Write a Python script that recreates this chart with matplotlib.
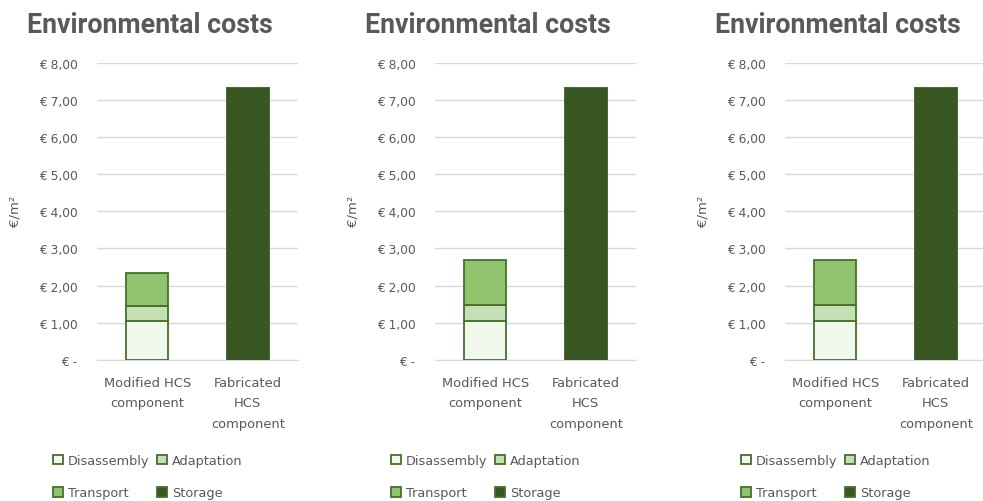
import numpy as np
import matplotlib
matplotlib.use("Agg")
import matplotlib.pyplot as plt
from matplotlib.patches import Patch

plt.rcParams['font.family'] = ['DejaVu Sans']

# data (EUR per m2), one panel per chart
categories = ['Modified HCS\ncomponent', 'Fabricated\nHCS\ncomponent']
series = ['Disassembly', 'Adaptation', 'Transport', 'Storage']
disassembly = [[1.03, 0.0], [1.03, 0.0], [1.03, 0.0]]
adaptation = [[0.43, 0.0], [0.44, 0.0], [0.44, 0.0]]
transport = [[0.87, 0.0], [1.21, 0.0], [1.21, 0.0]]
storage = [[0.0, 7.32], [0.0, 7.32], [0.0, 7.32]]
yticks = [0, 1, 2, 3, 4, 5, 6, 7, 8]

colors = ['#f1f8ec', '#c5e0b4', '#92c46f', '#385723']
edge = '#456f2b'
grey = '#595959'

W, H = 983, 502
fig = plt.figure(figsize=(W / 100, H / 100), dpi=100)

offsets = [0, 338, 688]
for i, dx in enumerate(offsets):
    left = 97 + dx
    ax = fig.add_axes([left / W, 1 - 360.7 / H, 201 / W, 296.7 / H])
    x = np.arange(len(categories))
    vals = [disassembly[i], adaptation[i], transport[i], storage[i]]
    bottom = np.zeros(len(categories))
    for j, v in enumerate(vals):
        v = np.array(v)
        mask = v > 0
        ec = colors[3] if j == 3 else edge
        ax.bar(x[mask], v[mask], 0.42, bottom=bottom[mask], color=colors[j],
               edgecolor=ec, linewidth=1.3, zorder=3)
        bottom += v
    ax.set_xlim(-0.5, 1.5)
    ax.set_ylim(0, 8)
    ax.set_yticks(yticks)
    ax.set_yticklabels(['€ -' if t == 0 else '€ %d,00' % t for t in yticks])
    ax.set_xticks(x)
    ax.set_xticklabels(categories, linespacing=1.75)
    ax.tick_params(axis='y', length=0, pad=14, labelsize=8.8, labelcolor=grey)
    ax.tick_params(axis='x', length=0, pad=11.5, labelsize=9.4, labelcolor=grey)
    ax.grid(axis='y', color='#d9d9d9', linewidth=1, zorder=0)
    for s in ax.spines.values():
        s.set_visible(False)
    ax.spines['bottom'].set_visible(True)
    ax.spines['bottom'].set_color('#d9d9d9')
    ax.set_ylabel('€/m²', fontsize=9.5, color=grey)
    ax.yaxis.set_label_coords((22 + dx - left) / 201, (360.7 - 211) / 296.7)

    fig.text((27 + dx) / W, 1 - 33 / H, 'Environmental costs', fontsize=19.3,
             fontweight='bold', family='Roboto', color=grey,
             ha='left', va='baseline')

    # legend filled row by row like the original
    order = [0, 2, 1, 3]
    handles = [Patch(facecolor=colors[k], edgecolor=edge, linewidth=1.3) for k in order]
    labels = [series[k] for k in order]
    fig.legend(handles, labels, loc='upper left', ncol=2,
               bbox_to_anchor=((53 + dx) / W, 1 - 455 / H), borderpad=0,
               borderaxespad=0, frameon=False, labelcolor=grey,
               prop={'size': 9.3},
               handlelength=0.8, handleheight=0.8, handletextpad=0.35,
               columnspacing=0.6, labelspacing=1.5)

fig.savefig('out.png', dpi=100)
